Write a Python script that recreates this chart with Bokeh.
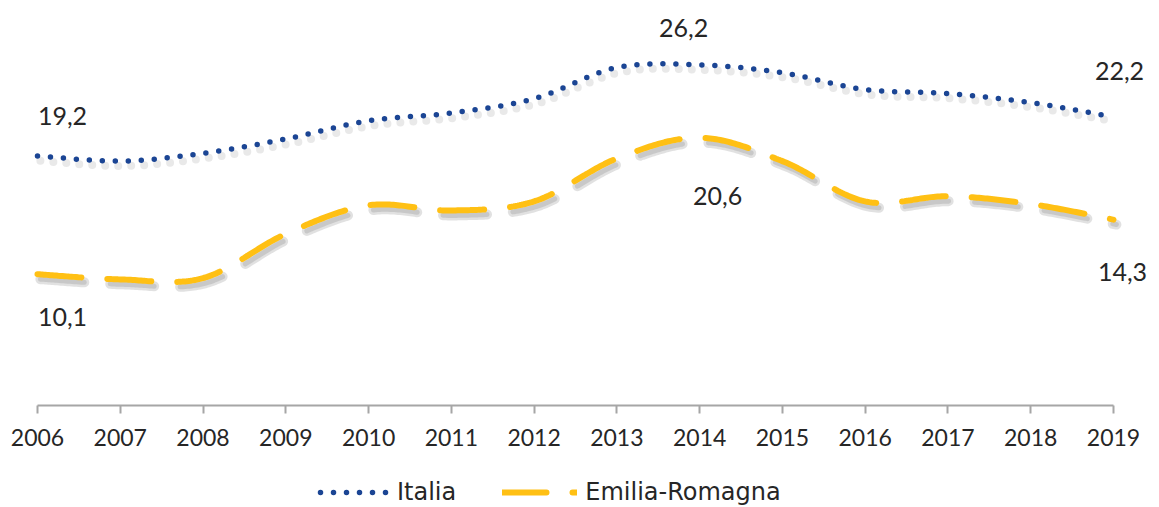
import numpy as np
from bokeh.plotting import figure
from bokeh.layouts import column
from bokeh.models import (ColumnDataSource, FixedTicker, Legend, LegendItem,
                          LabelSet, Range1d)
from bokeh.core.properties import value
from bokeh.embed import file_html
from bokeh.resources import INLINE

# ---- data ----
years = [2006, 2007, 2008, 2009, 2010, 2011, 2012, 2013, 2014, 2015, 2016, 2017, 2018, 2019]
italia = [19.2, 18.8, 19.4, 20.5, 21.9, 22.5, 23.6, 26.0, 26.2, 25.6, 24.3, 24.0, 23.3, 22.2]
emilia = [10.1, 9.7, 9.8, 13.2, 15.4, 15.0, 15.7, 19.0, 20.6, 18.8, 15.7, 16.1, 15.5, 14.3]
series_names = ["Italia", "Emilia-Romagna"]
label_idx = [0, 8, 13]

FONT = "Lato"
LEG_FONT = "DejaVu Sans"
TXT = "#262626"
BLUE = "#1B4594"
GOLD = "#FFC014"
DOT = "0 13"
DASH = "44 26"


def smooth(xs, ys, n=40):
    """Excel-like smoothed line: cubic Bezier through every point."""
    xs = np.asarray(xs, float)
    ys = np.asarray(ys, float)
    m = len(xs)
    ox, oy = [], []
    for i in range(m - 1):
        p0 = np.array([xs[max(i - 1, 0)], ys[max(i - 1, 0)]])
        p1 = np.array([xs[i], ys[i]])
        p2 = np.array([xs[i + 1], ys[i + 1]])
        p3 = np.array([xs[min(i + 2, m - 1)], ys[min(i + 2, m - 1)]])
        c1 = p1 + (p2 - p0) / 6.0
        c2 = p2 - (p3 - p1) / 6.0
        t = np.linspace(0, 1, n, endpoint=(i == m - 2))[:, None]
        pts = ((1 - t) ** 3) * p1 + 3 * ((1 - t) ** 2) * t * c1 + 3 * (1 - t) * t * t * c2 + (t ** 3) * p2
        ox.extend(pts[:, 0])
        oy.extend(pts[:, 1])
    return ox, oy


W = 1159
H1 = 457
H2 = 50

p = figure(width=W, height=H1, output_backend="svg", toolbar_location=None,
           x_range=Range1d(2005.855, 2019.556), y_range=Range1d(0, 30),
           min_border_left=25, min_border_right=0, min_border_top=15,
           min_border_bottom=52)
p.outline_line_color = None
p.xgrid.visible = False
p.ygrid.visible = False
p.yaxis.visible = False
p.background_fill_color = "white"

# shadow offsets (approx. 3px right, 5px down, in data units)
sdx, sdy = 0.035, -0.38

ix, iy = smooth(years, italia)
ex, ey = smooth(years, emilia)

# shadows
p.line([x + sdx for x in ix], [y + sdy for y in iy], line_color="#9a9a9a", line_alpha=0.22,
       line_width=8, line_dash=DOT, line_cap="round")
p.line([x + sdx for x in ex], [y + sdy for y in ey], line_color="#9a9a9a", line_alpha=0.3,
       line_width=10, line_dash=DASH, line_cap="round")
p.line([x + sdx for x in ex], [y + sdy for y in ey], line_color="#9a9a9a", line_alpha=0.35,
       line_width=5, line_dash=DASH, line_cap="round")

p.line(ix, iy, line_color=BLUE, line_width=5.5, line_dash=DOT, line_cap="round")
p.line(ex, ey, line_color=GOLD, line_width=6, line_dash=DASH, line_cap="round")

# x axis
ax = p.xaxis[0]
ax.ticker = FixedTicker(ticks=years)
ax.bounds = (years[0], years[-1])
ax.axis_line_color = "#a6a6a6"
ax.axis_line_width = 2
ax.major_tick_line_color = "#a6a6a6"
ax.major_tick_line_width = 2
ax.major_tick_in = 0
ax.major_tick_out = 8
ax.minor_tick_line_color = None
ax.major_label_text_font = FONT
ax.major_label_text_font_size = "23px"
ax.major_label_text_color = TXT
ax.major_label_standoff = 15

# data labels
lab_off_x_it = [25, -16, 6]
lab_off_y_it = [40, 37, 46]
lab_off_x_em = [25, 18, 9]
lab_off_y_em = [-43, -58, -52]


def fmt(v):
    return f"{v:.1f}".replace(".", ",")


lab_src = ColumnDataSource(dict(
    x=[years[i] for i in label_idx] * 2,
    y=[italia[i] for i in label_idx] + [emilia[i] for i in label_idx],
    text=[fmt(italia[i]) for i in label_idx] + [fmt(emilia[i]) for i in label_idx],
    dx=lab_off_x_it + lab_off_x_em,
    dy=lab_off_y_it + lab_off_y_em,
))
labels = LabelSet(x="x", y="y", text="text", x_offset="dx", y_offset="dy", source=lab_src,
                  text_align="center", text_baseline="middle", text_font=value(FONT),
                  text_font_size="25px", text_color=TXT)
p.add_layout(labels)

# legend strip (sample renderers sit outside the visible range)
lg = figure(width=W, height=H2, output_backend="svg", toolbar_location=None,
            x_range=Range1d(0, 1), y_range=Range1d(0, 1),
            x_axis_type=None, y_axis_type=None,
            min_border_left=0, min_border_right=0, min_border_top=0, min_border_bottom=0)
lg.outline_line_color = None
lg.xgrid.visible = False
lg.ygrid.visible = False
g_it = lg.line([-5, -4], [-5, -4], line_color=BLUE, line_width=5.5, line_dash=DOT,
               line_cap="round", line_dash_offset=7)
g_em = lg.line([-5, -4], [-5, -4], line_color=GOLD, line_width=6, line_dash=DASH,
               line_cap="round")

legend = Legend(items=[LegendItem(label=series_names[0], renderers=[g_it]),
                       LegendItem(label=series_names[1], renderers=[g_em])],
                orientation="horizontal", location=(289, 1),
                label_text_font=LEG_FONT, label_text_font_size="24px", label_text_color=TXT,
                glyph_width=75, glyph_height=20, label_standoff=8, spacing=46,
                border_line_color=None, background_fill_alpha=0,
                padding=0, margin=0)
lg.add_layout(legend, "center")

layout = column(p, lg, spacing=0)
open("out.html", "w").write(file_html(layout, INLINE))
